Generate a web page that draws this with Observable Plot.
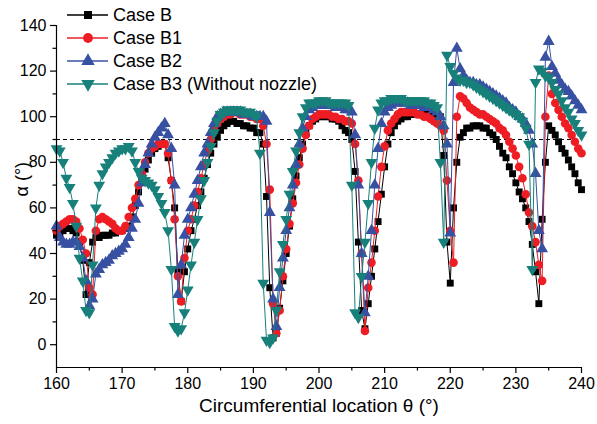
<!DOCTYPE html>
<html><head><meta charset="utf-8">
<script src="https://cdn.jsdelivr.net/npm/d3@7"></script>
<script src="https://cdn.jsdelivr.net/npm/@observablehq/plot@0.6"></script>
<style>
body{margin:0;background:#fff;}
#chart{position:relative;width:597px;height:424px;font-family:"Liberation Sans",Arial,sans-serif;}
#chart svg.legend{position:absolute;left:0;top:0;pointer-events:none;}
</style>
</head><body><div id="chart"></div>
<script>
const theta = [
160,160.5,161,161.5,162,162.5,163,163.5,164,164.5,
165,165.5,166,166.5,167,167.5,168,168.5,169,169.5,
170,170.5,171,171.5,172,172.5,173,173.5,174,174.5,
175,175.5,176,176.5,177,177.5,178,178.5,179,179.5,
180,180.5,181,181.5,182,182.5,183,183.5,184,184.5,
185,185.5,186,186.5,187,187.5,188,188.5,189,189.5,
190,190.5,191,191.5,192,192.5,193,193.5,194,194.5,
195,195.5,196,196.5,197,197.5,198,198.5,199,199.5,
200,200.5,201,201.5,202,202.5,203,203.5,204,204.5,
205,205.5,206,206.5,207,207.5,208,208.5,209,209.5,
210,210.5,211,211.5,212,212.5,213,213.5,214,214.5,
215,215.5,216,216.5,217,217.5,218,218.5,219,219.5,
220,220.5,221,221.5,222,222.5,223,223.5,224,224.5,
225,225.5,226,226.5,227,227.5,228,228.5,229,229.5,
230,230.5,231,231.5,232,232.5,233,233.5,234,234.5,
235,235.5,236,236.5,237,237.5,238,238.5,239,239.5,
240];

const caseB = [
48,49,50,51,51,50,49,45,37,22,
36,45,47,47,48,48,48,49,49,50,
50,51,52,56,61,67,72,77,81,84,
86,87,88,88,82,72,60,32,19,32,
42,50,55,61,67,73,79,84,88,91,
94,96,97,98,98,97,97,96,96,95,
95,93,93,88,65,25,3,5,16,28,
40,52,64,74,82,88,93,96,98,99,
100,100,100,100,99,99,98,96,94,93,
90,76,45,15,7,18,30,42,54,66,
78,88,93,96,98,99,100,100,101,101,
101,101,101,101,101,100,100,100,83,45,
27,60,80,91,93,95,95,96,96,96,
95,95,93,92,90,87,84,82,78,75,
71,67,64,60,54,44,32,18,55,80,
96,94,92,89,86,84,81,78,75,71,
68];

const caseB1 = [
50,52,53,54,55,55,54,51,46,40,
25,22,50,55,56,55,54,53,51,50,
50,52,56,60,64,70,75,80,84,86,
87,88,88,88,84,72,55,30,19,38,
50,55,61,67,73,79,85,90,94,97,
99,100,101,101,102,102,101,101,101,100,
100,99,99,96,88,68,18,5,15,30,
42,53,62,71,79,86,92,96,99,100,
101,101,101,101,100,100,99,99,98,98,
97,88,72,40,6,25,36,50,65,78,
87,94,97,99,101,102,102,102,102,102,
101,101,100,100,99,98,97,96,94,72,
50,36,100,109,108,106,104,103,102,101,
101,100,99,98,97,95,94,92,89,86,
83,78,73,66,58,52,45,35,28,100,
118,110,106,103,100,97,95,92,89,86,
84];

const caseB2 = [
52,47,45,44,44,45,45,43,38,28,
17,20,31,33,35,36,37,39,40,41,
42,44,47,51,55,62,71,79,84,88,
91,93,95,97,92,86,70,22,35,48,
55,60,66,72,78,84,88,93,97,100,
101,102,102,102,102,102,102,101,101,101,
100,100,100,100,98,58,20,8,25,38,
50,60,70,79,88,95,100,103,104,105,
105,105,105,105,105,104,104,104,103,103,
102,92,70,40,14,30,50,70,86,97,
102,104,105,106,106,106,106,106,105,105,
105,105,104,104,104,103,102,100,96,88,
49,115,130,121,118,116,115,115,114,114,
113,112,111,110,109,108,107,106,104,103,
102,100,99,97,94,88,75,50,42,126,
133,122,119,116,114,112,111,109,107,105,
103];

const caseB3 = [
86,85,80,73,69,62,52,38,28,15,
14,35,60,70,75,78,80,82,84,85,
86,86,87,85,80,76,73,72,71,70,
68,65,62,58,50,33,8,6,7,14,
24,35,45,55,64,72,80,87,93,98,
101,102,103,103,103,103,103,102,102,102,
101,100,84,27,2,1,3,15,32,44,
55,66,76,85,93,100,104,106,106,106,
107,107,107,106,106,106,106,106,106,105,
70,14,12,30,45,62,80,95,103,106,
107,107,108,108,108,108,107,107,107,107,
107,107,107,106,106,105,104,80,45,127,
122,119,117,116,116,115,115,114,113,112,
111,110,109,108,107,106,105,104,103,102,
101,100,98,95,88,33,115,121,120,118,
117,115,112,110,107,104,102,99,97,94,
92];

const seriesNames = ["Case B", "Case B1", "Case B2", "Case B3 (Without nozzle)"];
const seriesColors = ["#000000", "#ee1d24", "#3850a2", "#17807a"];
const xTicks = [160, 170, 180, 190, 200, 210, 220, 230, 240];
const xMinor = [165, 175, 185, 195, 205, 215, 225, 235];
const yTicks = [0, 20, 40, 60, 80, 100, 120, 140];
const yMinor = [10, 30, 50, 70, 90, 110, 130];
const refLine = [90];
const xTitle = "Circumferential location θ (°)";
const yTitle = "α (°)";

const downTriangle = {
  draw(context, size) {
    const s3 = Math.sqrt(3);
    const y = -Math.sqrt(size / (s3 * 3));
    context.moveTo(0, -y * 2);
    context.lineTo(-s3 * y, y);
    context.lineTo(s3 * y, y);
    context.closePath();
  }
};
const symbols = ["square", "circle", "triangle", downTriangle];
const radii = [3.9, 4.3, 4.4, 4.4];

const allSeries = [caseB, caseB1, caseB2, caseB3];
const tables = allSeries.map(vals => vals.map((v, i) => ({theta: theta[i], alpha: v})));

const seriesMarks = [];
tables.forEach((t, k) => {
  seriesMarks.push(Plot.line(t, {x: "theta", y: "alpha", stroke: seriesColors[k], strokeWidth: 1}));
  seriesMarks.push(Plot.dot(t, {x: "theta", y: "alpha", symbol: symbols[k], fill: seriesColors[k], stroke: "none", r: radii[k]}));
});

const plot = Plot.plot({
  width: 597,
  height: 424,
  marginLeft: 56,
  marginRight: 16,
  marginTop: 25,
  marginBottom: 57,
  style: {fontFamily: "Liberation Sans, Arial, sans-serif", fontSize: "16px", color: "#000", background: "#fff"},
  x: {domain: [160, 240], label: null},
  y: {domain: [-10, 140], label: null},
  marks: [
    Plot.ruleY(refLine, {stroke: "#000", strokeWidth: 1, strokeDasharray: "4,3"}),
    ...seriesMarks,
    Plot.ruleY([-10], {stroke: "#000", strokeWidth: 1.2}),
    Plot.ruleX([160], {stroke: "#000", strokeWidth: 1.2}),
    Plot.axisX(xTicks, {tickSize: 6, tickPadding: 4, fontSize: 16, label: null, strokeWidth: 1.2}),
    Plot.axisX(xMinor, {tickSize: 3.5, text: null, label: null, strokeWidth: 1.2}),
    Plot.axisY(yTicks, {tickSize: 6, tickPadding: 4, fontSize: 16, label: null, strokeWidth: 1.2}),
    Plot.axisY(yMinor, {tickSize: 3.5, text: null, label: null, strokeWidth: 1.2}),
    Plot.text([xTitle], {frameAnchor: "bottom", dy: 44, fontSize: 19, fill: "#000"}),
    Plot.text([yTitle], {frameAnchor: "left", dx: -34, rotate: -90, fontSize: 18, fill: "#000"})
  ]
});

const chart = document.getElementById("chart");
chart.appendChild(plot);

// Legend overlay (inside the plot area, top-left)
const lg = d3.select(chart).append("svg").attr("class", "legend")
  .attr("width", 597).attr("height", 424);
seriesNames.forEach((name, k) => {
  const g = lg.append("g").attr("transform", `translate(0,${15 + k * 23})`);
  g.append("line").attr("x1", 67).attr("x2", 108).attr("y1", 0).attr("y2", 0)
    .attr("stroke", seriesColors[k]).attr("stroke-width", 1.3);
  const sym = typeof symbols[k] === "string"
    ? {square: d3.symbolSquare, circle: d3.symbolCircle, triangle: d3.symbolTriangle}[symbols[k]]
    : symbols[k];
  const size = Math.PI * (radii[k] + 0.6) ** 2;
  g.append("path").attr("transform", "translate(88,0)")
    .attr("d", d3.symbol(sym, size)()).attr("fill", seriesColors[k]);
  g.append("text").attr("x", 113).attr("y", 0).attr("dy", "0.36em")
    .attr("font-size", 18).attr("fill", "#000").text(name);
});
</script>
</body></html>
